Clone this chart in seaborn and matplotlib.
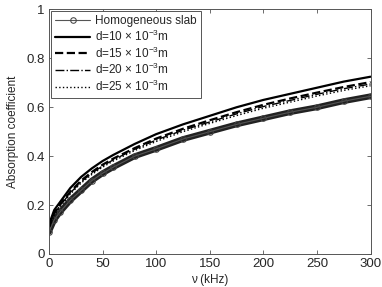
import numpy as np
import pandas as pd
import matplotlib
matplotlib.use('Agg')
import matplotlib.pyplot as plt
import seaborn as sns

# ## data (frequency in kHz)
freq = [0, 5, 10, 20, 30, 40, 50, 60, 80, 100, 125, 150, 175, 200, 225, 250, 275, 300]
homog = [0.09, 0.14, 0.17, 0.22, 0.26, 0.30, 0.33, 0.355, 0.40, 0.43, 0.47, 0.50, 0.53, 0.555, 0.58, 0.60, 0.625, 0.645]
d10 = [0.12, 0.18, 0.21, 0.27, 0.315, 0.35, 0.38, 0.405, 0.45, 0.49, 0.53, 0.565, 0.60, 0.63, 0.655, 0.68, 0.705, 0.725]
d15 = [0.11, 0.17, 0.20, 0.255, 0.30, 0.335, 0.365, 0.39, 0.433, 0.472, 0.512, 0.547, 0.58, 0.61, 0.636, 0.66, 0.683, 0.703]
d20 = [0.105, 0.165, 0.195, 0.25, 0.295, 0.33, 0.36, 0.385, 0.428, 0.466, 0.506, 0.54, 0.573, 0.603, 0.628, 0.653, 0.676, 0.695]
d25 = [0.10, 0.16, 0.19, 0.245, 0.29, 0.325, 0.355, 0.38, 0.423, 0.46, 0.50, 0.534, 0.566, 0.596, 0.621, 0.646, 0.669, 0.688]

labels = ['Homogeneous slab',
          r'd=10 $\times$ 10$^{-3}$m',
          r'd=15 $\times$ 10$^{-3}$m',
          r'd=20 $\times$ 10$^{-3}$m',
          r'd=25 $\times$ 10$^{-3}$m']
xticks = [0, 50, 100, 150, 200, 250, 300]
yticks = [0, 0.2, 0.4, 0.6, 0.8, 1]

df = pd.DataFrame({'f': freq, 'h': homog, 'd10': d10, 'd15': d15, 'd20': d20, 'd25': d25})

sns.set_style('ticks')
plt.rcParams['font.family'] = ['Liberation Sans', 'DejaVu Sans']
plt.rcParams['mathtext.fontset'] = 'custom'
plt.rcParams['mathtext.rm'] = 'Liberation Sans'
plt.rcParams['mathtext.it'] = 'Liberation Sans:italic'

fig = plt.figure(figsize=(3.82, 2.87), dpi=100)
ax = fig.add_axes([0.128, 0.115, 0.842, 0.852])

# thick band for the homogeneous slab (dense circle markers in the original)
sns.lineplot(data=df, x='f', y='h', ax=ax, color='#222222', lw=4.2, legend=False)
sns.lineplot(data=df, x='f', y='h', ax=ax, color='#555555', lw=0.8, marker='o',
             markersize=4, markerfacecolor='none', markeredgecolor='#444444',
             label=labels[0])
sns.lineplot(data=df, x='f', y='d10', ax=ax, color='k', lw=1.6, label=labels[1])
sns.lineplot(data=df, x='f', y='d15', ax=ax, color='k', lw=1.6, ls='--', label=labels[2])
sns.lineplot(data=df, x='f', y='d20', ax=ax, color='k', lw=1.0, ls='-.', label=labels[3])
sns.lineplot(data=df, x='f', y='d25', ax=ax, color='k', lw=1.0, ls=':', label=labels[4])

ax.set_xlim(0, 300)
ax.set_ylim(0, 1)
ax.set_xticks(xticks)
ax.set_yticks(yticks)
ax.set_yticklabels(['0', '0.2', '0.4', '0.6', '0.8', '1'])
ax.set_xlabel('ν (kHz)', fontsize=8.5, labelpad=3)
ax.set_ylabel('Absorption coefficient', fontsize=8.5, labelpad=5)
ax.tick_params(direction='in', top=True, right=True, labelsize=9.5, length=3,
               width=0.6, color='#555555', pad=3)
for s in ax.spines.values():
    s.set_linewidth(0.7)
    s.set_color('#555555')

leg = ax.legend(loc='upper left', fontsize=8.5, frameon=True, fancybox=False,
                framealpha=1, edgecolor='#555555', handlelength=3.0,
                handletextpad=0.4, labelspacing=0.12, borderpad=0.35,
                borderaxespad=0.15)
leg.get_frame().set_linewidth(0.7)

fig.savefig('out.png', dpi=100)
